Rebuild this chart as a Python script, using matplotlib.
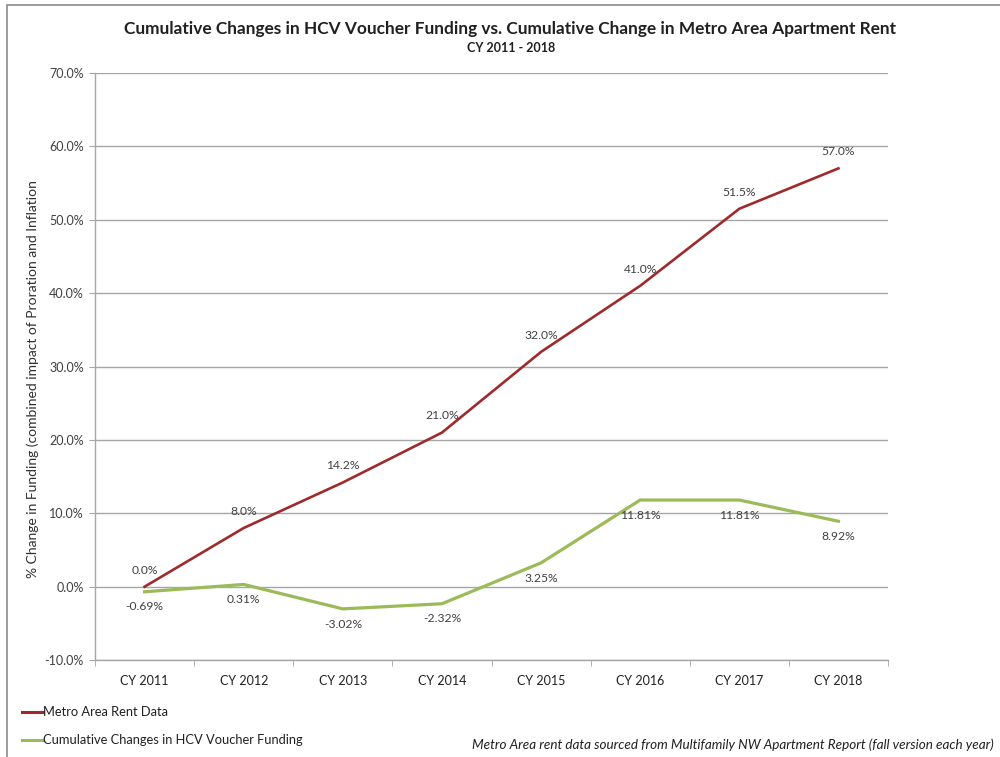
import matplotlib
matplotlib.use("Agg")
import matplotlib.pyplot as plt
from matplotlib.patches import Rectangle
from matplotlib.lines import Line2D

plt.rcParams['font.family'] = ['Lato', 'DejaVu Sans']

# chart data
years = ['CY 2011', 'CY 2012', 'CY 2013', 'CY 2014', 'CY 2015', 'CY 2016', 'CY 2017', 'CY 2018']
rent = [0.0, 8.0, 14.2, 21.0, 32.0, 41.0, 51.5, 57.0]
hcv = [-0.69, 0.31, -3.02, -2.32, 3.25, 11.81, 11.81, 8.92]
rent_labels = ['0.0%', '8.0%', '14.2%', '21.0%', '32.0%', '41.0%', '51.5%', '57.0%']
hcv_labels = ['-0.69%', '0.31%', '-3.02%', '-2.32%', '3.25%', '11.81%', '11.81%', '8.92%']
yticks = [-10, 0, 10, 20, 30, 40, 50, 60, 70]

RED = '#9E2A2B'
GREEN = '#9BBB59'
GRID = '#A6A6A6'
TXT = '#404040'

fig = plt.figure(figsize=(10, 7.57), dpi=100)
ax = fig.add_axes([0.095, 0.128, 0.793, 0.7756])

x = list(range(len(years)))
ax.plot(x, rent, color=RED, lw=1.9, zorder=3)
ax.plot(x, hcv, color=GREEN, lw=2.3, zorder=3)

for i, (v, s) in enumerate(zip(rent, rent_labels)):
    ax.annotate(s, (i, v), xytext=(0, 8), textcoords='offset points',
                ha='center', va='bottom', fontsize=8.7, color=TXT)
for i, (v, s) in enumerate(zip(hcv, hcv_labels)):
    ax.annotate(s, (i, v), xytext=(0, -7), textcoords='offset points',
                ha='center', va='top', fontsize=8.7, color=TXT)

ax.set_xlim(-0.5, len(years) - 0.5)
ax.set_ylim(-10, 70)
ax.set_yticks(yticks)
ax.set_yticklabels([f'{t:.1f}%' for t in yticks], fontsize=9, color=TXT)
ax.set_xticks(x)
ax.set_xticklabels(years, fontsize=9, color='#202020')
ax.set_xticks([i - 0.5 for i in range(len(years) + 1)], minor=True)
ax.tick_params(axis='x', which='major', length=0, pad=11)
ax.tick_params(axis='x', which='minor', length=4, color=GRID)
ax.tick_params(axis='y', length=4, color=GRID, pad=4)
ax.grid(axis='y', color=GRID, lw=1)
ax.set_axisbelow(True)
for side in ['top', 'right']:
    ax.spines[side].set_visible(False)
for side in ['left', 'bottom']:
    ax.spines[side].set_color(GRID)
    ax.spines[side].set_linewidth(1)

fig.text(0.033, 1 - 379 / 757, '% Change in Funding (combined impact of Proration and Inflation',
         rotation=90, ha='center', va='center', fontsize=10, color='#303030')

fig.text(0.51, 0.962, 'Cumulative Changes in HCV Voucher Funding vs. Cumulative Change in Metro Area Apartment Rent',
         ha='center', va='center', fontsize=12.4, fontweight='bold', color='#202020')
fig.text(0.511, 0.937, 'CY 2011 - 2018', ha='center', va='center', fontsize=9,
         fontweight='bold', color='#202020')

# legend at bottom-left
for yy, col, lab in [(0.059, RED, 'Metro Area Rent Data'),
                     (0.022, GREEN, 'Cumulative Changes in HCV Voucher Funding')]:
    fig.add_artist(Line2D([0.022, 0.043], [yy, yy], color=col, lw=2.2))
    fig.text(0.043, yy, lab, ha='left', va='center', fontsize=9.3, color='#202020')

fig.text(0.472, 0.016, 'Metro Area rent data sourced from Multifamily NW Apartment Report (fall version each year)',
         ha='left', va='center', fontsize=9.7, style='italic', color='#202020')

fig.add_artist(Rectangle((0.007, -0.1), 1.2, 1.0934, transform=fig.transFigure,
                         fill=False, edgecolor='#8C8C8C', lw=1.2))

fig.savefig('out.png', dpi=100)
